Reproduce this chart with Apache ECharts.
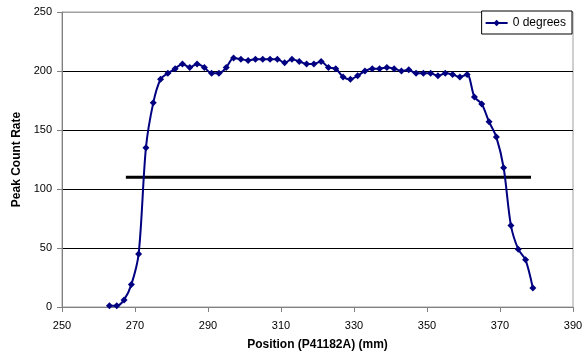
<!DOCTYPE html>
<html>
<head>
<meta charset="utf-8">
<script src="https://cdn.jsdelivr.net/npm/echarts@6/dist/echarts.min.js"></script>
<style>
  html, body { margin: 0; padding: 0; background: #fff; }
  #mainChart { width: 587px; height: 354px; }
</style>
</head>
<body>
<div id="mainChart"></div>
<script>
// position (mm), every 2 mm
var positions = [263, 265, 267, 269, 271, 273, 275, 277, 279, 281, 283, 285, 287, 289, 291, 293, 295, 297, 299, 301,
    303, 305, 307, 309, 311, 313, 315, 317, 319, 321, 323, 325, 327, 329, 331, 333, 335, 337, 339, 341,
    343, 345, 347, 349, 351, 353, 355, 357, 359, 361, 363, 365, 367, 369, 371, 373, 375, 377, 379];
// peak count rate
var countRate = [1, 1, 6, 19, 45, 135, 173, 193, 198, 202, 206, 203, 206, 203, 198, 198, 203, 211, 210, 209,
    210, 210, 210, 210, 207, 210, 208, 206, 206, 208, 203, 202, 195, 193, 196, 200, 202, 202, 203, 202,
    200, 201, 198, 198, 198, 196, 198, 197, 195, 197, 178, 172, 157, 144, 118, 69, 49, 40, 16];
// black reference line
var thresholdX = [267.5, 378.5];
var thresholdY = 110;

var xTicks = { min: 250, max: 390, interval: 20 };
var yTicks = { min: 0, max: 250, interval: 50 };

var myChart = echarts.init(document.getElementById('mainChart'));

var option = {
    animation: false,
    textStyle: { fontFamily: 'Liberation Sans, Arial, sans-serif' },
    grid: {
        left: 62,
        right: 14,
        top: 12,
        bottom: 47,
        outerBoundsMode: 'none',
        show: true,
        borderColor: '#a0a0a0',
        borderWidth: 1
    },
    legend: {
        data: ['0 degrees'],
        right: 15,
        top: 11,
        orient: 'vertical',
        backgroundColor: '#fff',
        borderColor: '#000',
        borderWidth: 1,
        padding: [6, 6, 5, 3],
        itemWidth: 22,
        itemHeight: 8,
        itemGap: 4,
        textStyle: { fontSize: 12, color: '#000', fontFamily: 'Liberation Sans, Arial, sans-serif' }
    },
    xAxis: {
        type: 'value',
        min: xTicks.min,
        max: xTicks.max,
        interval: xTicks.interval,
        name: 'Position (P41182A) (mm)',
        nameLocation: 'middle',
        nameGap: 32,
        nameTextStyle: { fontSize: 12, fontWeight: 'bold', color: '#000' },
        axisLine: { lineStyle: { color: '#808080', width: 1 } },
        axisTick: { show: true, length: 5, lineStyle: { color: '#808080' } },
        axisLabel: { fontSize: 11, color: '#000', margin: 13 },
        splitLine: { show: false }
    },
    yAxis: {
        type: 'value',
        min: yTicks.min,
        max: yTicks.max,
        interval: yTicks.interval,
        name: 'Peak Count Rate',
        nameLocation: 'middle',
        nameGap: 31,
        nameTextStyle: { fontSize: 12, fontWeight: 'bold', color: '#000' },
        axisLine: { show: true, lineStyle: { color: '#808080', width: 1 } },
        axisTick: { show: true, length: 5, lineStyle: { color: '#808080' } },
        axisLabel: { fontSize: 11, color: '#000', margin: 10 },
        splitLine: {
            show: true,
            lineStyle: { color: ['#808080', '#000', '#000', '#000', '#000', '#a0a0a0'], width: 1 }
        }
    },
    series: [{
        name: '0 degrees',
        type: 'line',
        smooth: 0.3,
        data: positions.map(function (x, i) { return [x, countRate[i]]; }),
        symbol: 'diamond',
        symbolSize: 7,
        itemStyle: { color: '#000080' },
        lineStyle: { color: '#000080', width: 2 },
        z: 3
    }, {
        name: 'threshold',
        type: 'line',
        data: thresholdX.map(function (x) { return [x, thresholdY]; }),
        symbol: 'none',
        lineStyle: { color: '#000', width: 3 },
        z: 2
    }]
};

myChart.setOption(option);
</script>
</body>
</html>
